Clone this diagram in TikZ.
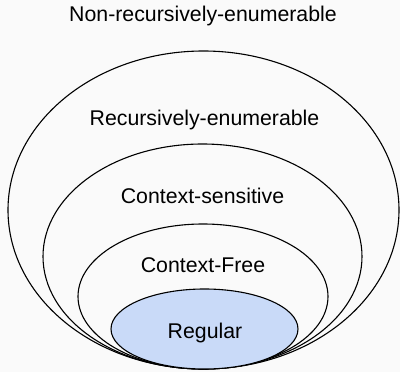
\documentclass[tikz,border=0pt]{standalone}
\usepackage{fontspec}
\setmainfont{Liberation Sans}
\definecolor{bgc}{RGB}{250,250,250}
\definecolor{regblue}{HTML}{C9DAF8}
\tikzset{
  setline/.style={draw=black, line width=1.1pt},
  lbl/.style={anchor=base, inner sep=0pt, font=\fontsize{21.3}{25}\selectfont, text=black}
}
\begin{document}
\begin{tikzpicture}[x=1pt,y=1pt]
\fill[bgc] (0,0) rectangle (400,-372);
\useasboundingbox (0,0) rectangle (400,-372);
\draw[setline] (203.5,-210) ellipse [x radius=195.5, y radius=159];
\draw[setline] (202.5,-256.5) ellipse [x radius=159.5, y radius=112.5];
\draw[setline] (203,-296.5) ellipse [x radius=125, y radius=72.5];
\draw[setline, fill=regblue] (204.5,-329) ellipse [x radius=93.5, y radius=40];
\node[lbl] (nre) at (203,-21) {Non-recursively-enumerable};
\node[lbl] (re) at (204.5,-125) {Recursively-enumerable};
\node[lbl] (cs) at (202.5,-203) {Context-sensitive};
\node[lbl] (cf) at (203,-272) {Context-Free};
\node[lbl] (reg) at (205,-338) {Regular};
\end{tikzpicture}
\end{document}
